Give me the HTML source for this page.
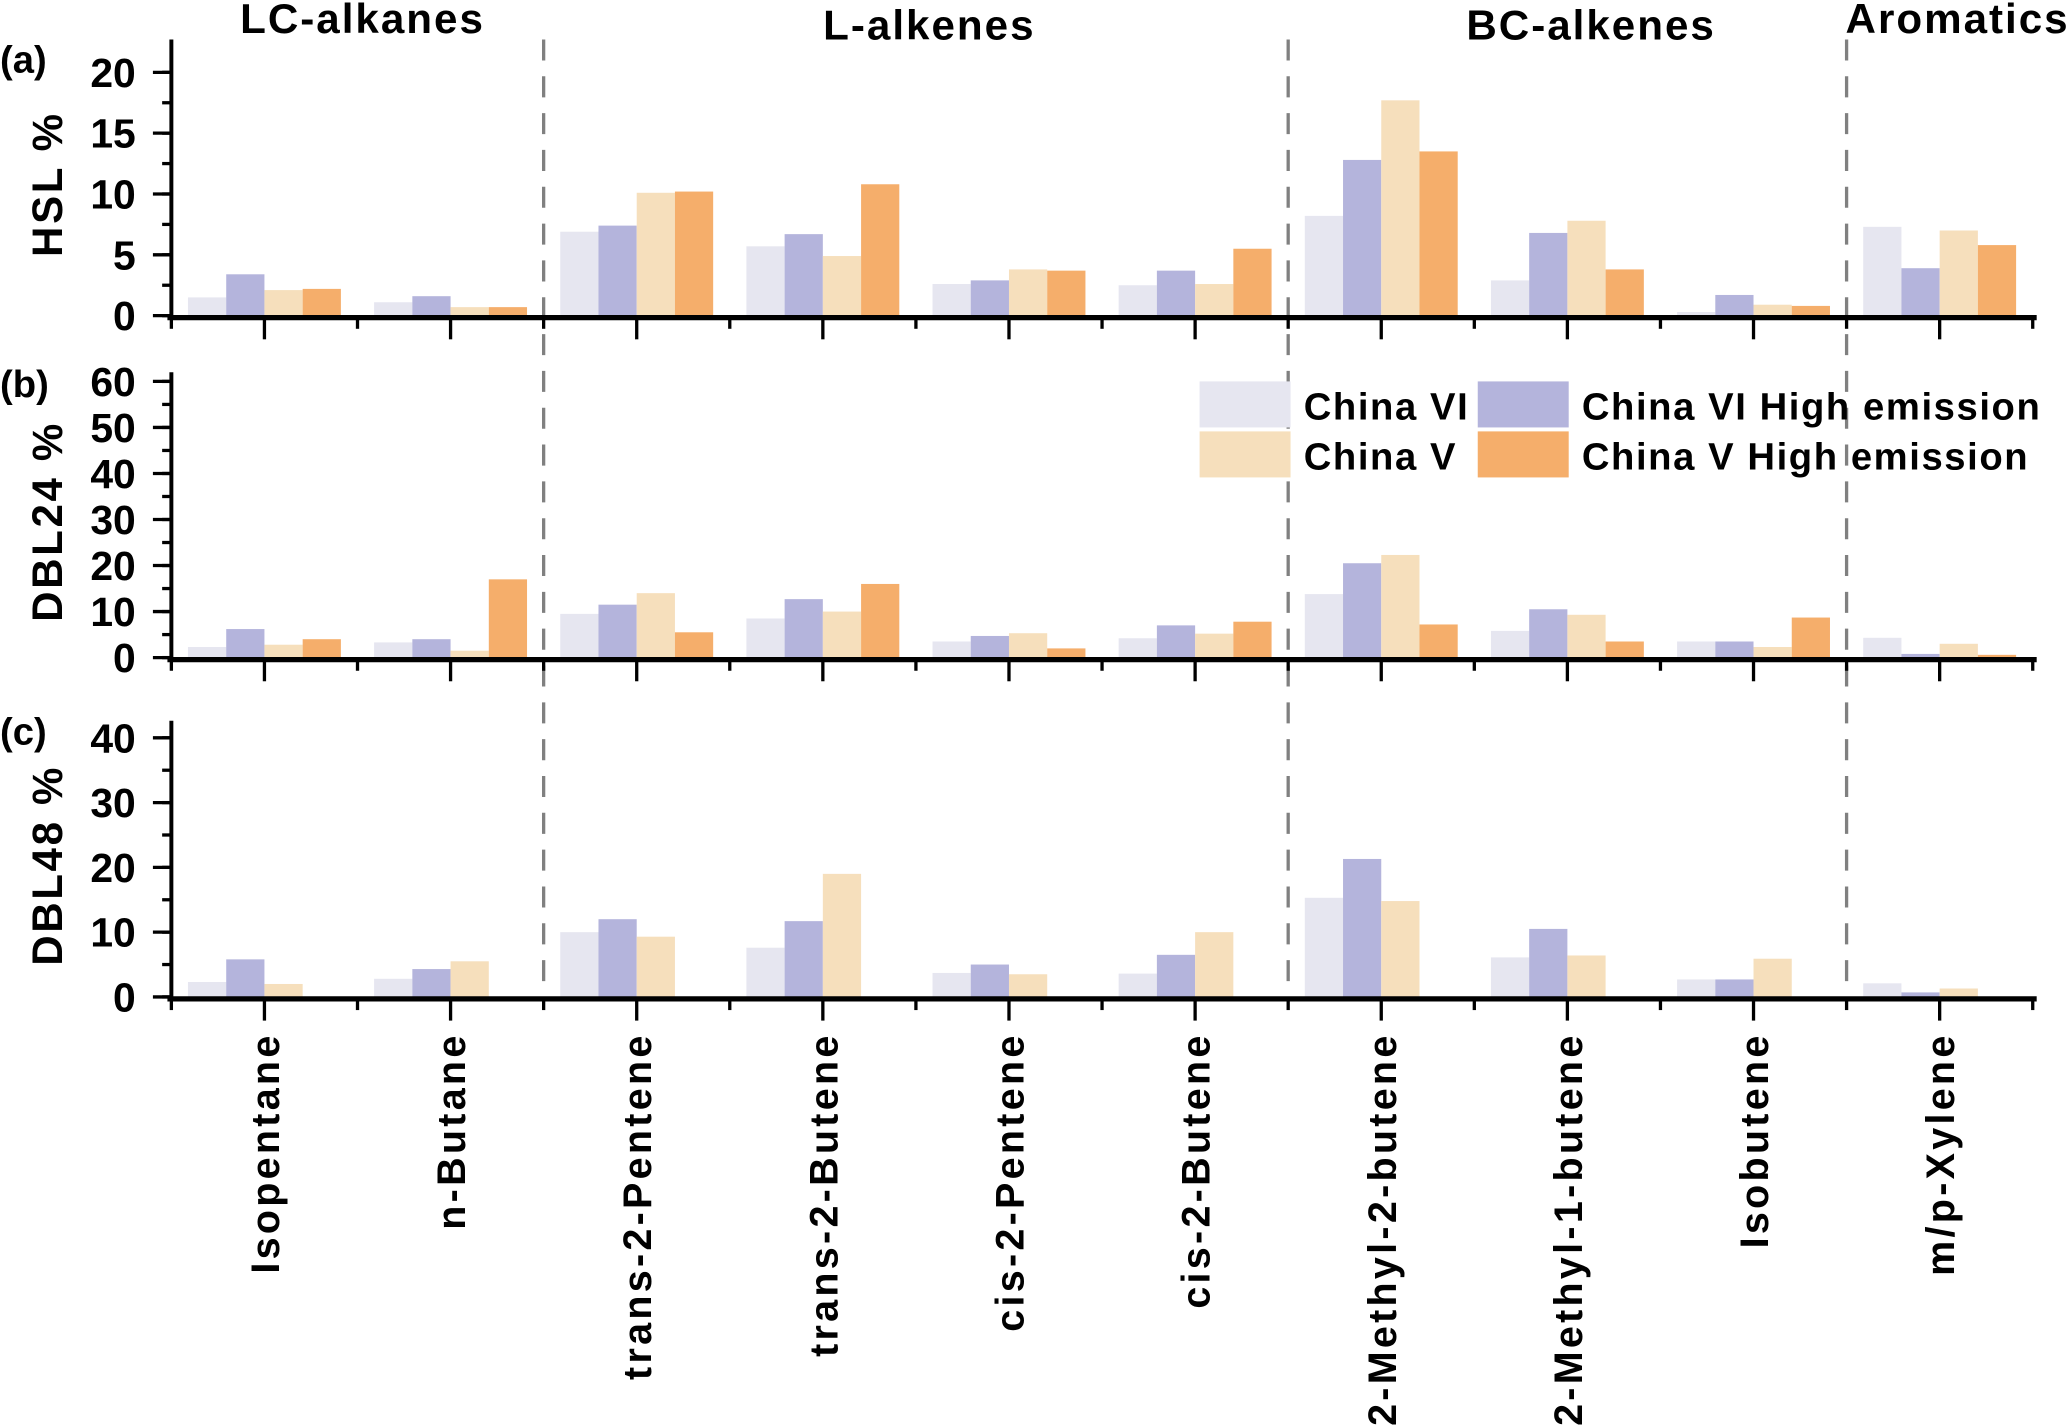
<!DOCTYPE html>
<html><head><meta charset="utf-8"><style>
html,body{margin:0;padding:0;background:#fff;}
svg{display:block;font-family:"Liberation Sans",Arial,sans-serif;font-weight:bold;}
</style></head><body>
<svg id="chart" width="2067" height="1427" viewBox="0 0 1568 1085" preserveAspectRatio="none" xmlns="http://www.w3.org/2000/svg"></svg>
<script>
const categories = ["Isopentane","n-Butane","trans-2-Pentene","trans-2-Butene","cis-2-Pentene","cis-2-Butene","2-Methyl-2-butene","2-Methyl-1-butene","Isobutene","m/p-Xylene"];
const seriesNames = ["China VI","China VI High emission","China V","China V High emission"];
const hslVI   = [1.5,1.1,6.9,5.7,2.6,2.5,8.2,2.9,0.3,7.3];
const hslVIH  = [3.4,1.6,7.4,6.7,2.9,3.7,12.8,6.8,1.7,3.9];
const hslV    = [2.1,0.7,10.1,4.9,3.8,2.6,17.7,7.8,0.9,7.0];
const hslVH   = [2.2,0.7,10.2,10.8,3.7,5.5,13.5,3.8,0.8,5.8];
const dbl24VI  = [2.3,3.3,9.5,8.5,3.5,4.2,13.8,5.8,3.5,4.3];
const dbl24VIH = [6.2,4.0,11.5,12.7,4.7,7.0,20.5,10.5,3.5,0.8];
const dbl24V   = [2.8,1.5,14.0,10.0,5.3,5.2,22.3,9.3,2.3,3.0];
const dbl24VH  = [4.0,17.0,5.5,16.0,2.0,7.8,7.2,3.5,8.7,0.6];
const dbl48VI  = [2.3,2.8,10.0,7.6,3.7,3.6,15.3,6.1,2.7,2.1];
const dbl48VIH = [5.8,4.3,12.0,11.7,5.0,6.5,21.3,10.5,2.7,0.7];
const dbl48V   = [2.0,5.5,9.3,19.0,3.5,10.0,14.8,6.4,5.9,1.3];
const ticksA = [0,5,10,15,20];
const ticksB = [0,10,20,30,40,50,60];
const ticksC = [0,10,20,30,40];
const groupNames = ["LC-alkanes","L-alkenes","BC-alkenes","Aromatics"];
const groupBounds = [2,6,9];

const colors = ["#e6e6f0","#b4b4dc","#f6dfbc","#f5ae6b"];
const NS = "http://www.w3.org/2000/svg";
const svg = document.getElementById('chart');
function mk(tag, attrs, parent){ const e=document.createElementNS(NS,tag); for(const k in attrs) e.setAttribute(k,attrs[k]); (parent||svg).appendChild(e); return e; }

const X0=130, BAND=141.2, X1=X0+BAND*categories.length+3;
function xBand(i){ return X0+BAND*i; }
function xCenter(i){ return X0+BAND*(i+0.5); }
const BW=29;

const panels = [
  {key:"a", title:"HSL %", base:240, pxPer:9.25, ticks:ticksA, minor:2.5, top:30, series:[hslVI,hslVIH,hslV,hslVH], lab:"(a)", labY:55},
  {key:"b", title:"DBL24 %", base:500, pxPer:3.5, ticks:ticksB, minor:5, top:283, series:[dbl24VI,dbl24VIH,dbl24V,dbl24VH], lab:"(b)", labY:302},
  {key:"c", title:"DBL48 %", base:758, pxPer:4.925, ticks:ticksC, minor:5, top:548, series:[dbl48VI,dbl48VIH,dbl48V], lab:"(c)", labY:566}
];

groupBounds.forEach(b=>{
  const l=mk('line',{x1:xBand(b),x2:xBand(b),y1:30,y2:760,stroke:"#808080","stroke-width":2.5,"stroke-dasharray":"16,12"});
  
  
});

panels.forEach(p=>{
  const g=mk('g',{});
  
  
  const y=v=>p.base-v*p.pxPer;
  p.series.forEach((arr,s)=>{
    arr.forEach((v,i)=>{
      const r=mk('rect',{x:xCenter(i)-2*BW+s*BW,y:y(v),width:BW,height:v*p.pxPer,fill:colors[s]},g);
      
      
    });
  });
  const xa=mk('line',{x1:X0-3,x2:X1,y1:p.base+1.5,y2:p.base+1.5,stroke:"#000","stroke-width":4},g);
  
  
  const ya=mk('line',{x1:X0,x2:X0,y1:p.top,y2:p.base+3,stroke:"#000","stroke-width":3},g);
  
  
  for(let i=0;i<=categories.length;i++){
    mk('line',{x1:xBand(i),x2:xBand(i),y1:p.base,y2:p.base+10,stroke:"#000","stroke-width":2.5},g);
    if(i<categories.length) mk('line',{x1:xCenter(i),x2:xCenter(i),y1:p.base,y2:p.base+18,stroke:"#000","stroke-width":2.5},g);
  }
  const maxT=p.ticks[p.ticks.length-1];
  for(let v=0; v<=maxT+0.001; v+=p.minor){
    mk('line',{x1:X0-7,x2:X0,y1:y(v),y2:y(v),stroke:"#000","stroke-width":2.5},g);
  }
  p.ticks.forEach(v=>{
    mk('line',{x1:X0-14,x2:X0,y1:y(v),y2:y(v),stroke:"#000","stroke-width":2.5},g);
    const t=mk('text',{x:103,y:y(v)+11,"text-anchor":"end","font-size":31},g);
    t.textContent=v;
    
    
  });
  const yt=mk('text',{x:0,y:0,"text-anchor":"middle","font-size":32,"letter-spacing":2,transform:`translate(47,${(p.base+p.top)/2+5}) rotate(-90)`},g);
  yt.textContent=p.title;
  
  
  const pl=mk('text',{x:0,y:p.labY,"font-size":29},g);
  pl.textContent=p.lab;
  
  
});

categories.forEach((c,i)=>{
  const t=mk('text',{x:0,y:0,"text-anchor":"end","font-size":30,"letter-spacing":2.5,transform:`translate(${xCenter(i)+11},785) rotate(-90)`});
  t.textContent=c;
  
  
});

const gx=[275,705,1207,1485], gy=[25,30,30,25];
groupNames.forEach((n,i)=>{
  const t=mk('text',{x:gx[i],y:gy[i],"text-anchor":"middle","font-size":32,"letter-spacing":1.5});
  t.textContent=n;
  
  
});

const leg=mk('g',{});


const lx=[910,1121,910,1121], ly=[290,290,328,328], order=[0,1,2,3];
order.forEach((s,k)=>{
  mk('rect',{x:lx[k],y:ly[k],width:69,height:35,fill:colors[s]},leg);
  const t=mk('text',{x:lx[k]+79,y:ly[k]+29,"font-size":29,"letter-spacing":1.2},leg);
  t.textContent=seriesNames[s];
  
  
});
</script>
</body></html>
